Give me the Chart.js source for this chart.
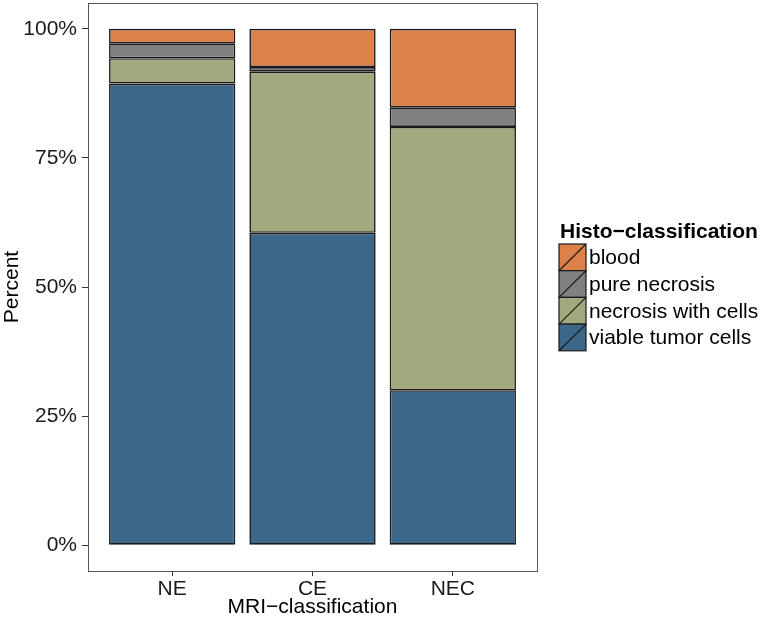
<!DOCTYPE html>
<html>
<head>
<meta charset="utf-8">
<script src="https://cdn.jsdelivr.net/npm/chart.js@4.4.1/dist/chart.umd.min.js"></script>
<style>
  html, body { margin: 0; padding: 0; background: #fff; }
  #wrap { width: 761px; height: 620px; }
</style>
</head>
<body>
<div id="wrap"><canvas id="chart" width="761" height="620"></canvas></div>
<script>
// MRI-classification vs histology, stacked percent bars

const categories = ['NE', 'CE', 'NEC'];
const yTicks = [0, 25, 50, 75, 100];

// stacked bottom to top
const viable = [89.4, 60.5, 30.0];
const necrosisCells = [4.9, 31.2, 51.0];
const pureNecrosis = [2.9, 0.9, 3.8];
const blood = [2.8, 7.4, 15.2];

const seriesNames = ['viable tumor cells', 'necrosis with cells', 'pure necrosis', 'blood'];
const seriesColors = ['#3d6789', '#a3a97f', '#808080', '#db8149'];
const seriesValues = [viable, necrosisCells, pureNecrosis, blood];

const FONT = "'Liberation Sans', Arial, sans-serif";
const FS = 21;

const datasets = seriesNames.map((name, i) => ({
  label: name,
  data: seriesValues[i].map((v, j) => ({ x: j + 1, y: v })),
  backgroundColor: seriesColors[i],
  borderColor: '#1a1a1a',
  borderWidth: 1.6,
  borderSkipped: false,
  categoryPercentage: 1,
  barPercentage: 0.9
}));

// panel box + legend drawn by hand (ggplot look)
const ggPlugin = {
  id: 'ggPlugin',
  afterDraw(chart) {
    const ctx = chart.ctx;
    const a = chart.chartArea;
    ctx.save();
    ctx.strokeStyle = '#555';
    ctx.lineWidth = 1;
    ctx.strokeRect(Math.round(a.left) + 0.5, Math.round(a.top) + 0.5,
      Math.round(a.right - a.left), Math.round(a.bottom - a.top));

    // legend
    const lx = 559, top = 244, key = 26.7;
    ctx.fillStyle = '#000';
    ctx.font = 'bold ' + FS + 'px ' + FONT;
    ctx.textBaseline = 'middle';
    ctx.textAlign = 'left';
    ctx.fillText('Histo\u2212classification', 560, 232);
    ctx.font = FS + 'px ' + FONT;
    for (let k = 0; k < seriesNames.length; k++) {
      const i = seriesNames.length - 1 - k;
      const y = top + k * key;
      ctx.fillStyle = seriesColors[i];
      ctx.fillRect(lx, y, 27, key);
      ctx.strokeStyle = '#1a1a1a';
      ctx.lineWidth = 1.2;
      ctx.strokeRect(lx, y, 27, key);
      ctx.beginPath();
      ctx.moveTo(lx, y + key);
      ctx.lineTo(lx + 27, y);
      ctx.stroke();
      ctx.fillStyle = '#000';
      ctx.fillText(seriesNames[i], 589, y + key / 2 + 1);
    }
    ctx.restore();
  }
};

new Chart(document.getElementById('chart'), {
  type: 'bar',
  data: { datasets },
  plugins: [ggPlugin],
  options: {
    responsive: false,
    animation: false,
    layout: { padding: { top: 3, right: 224, left: 0, bottom: 0 } },
    plugins: {
      legend: { display: false },
      tooltip: { enabled: false }
    },
    scales: {
      x: {
        type: 'linear',
        stacked: true,
        offset: false,
        min: 0.4,
        max: 3.6,
        afterBuildTicks: scale => { scale.ticks = categories.map((c, i) => ({ value: i + 1 })); },
        afterFit: scale => {
          scale.height = 49;
          scale.paddingLeft = 0;
          scale.paddingRight = 0;
        },
        grid: { offset: false, drawOnChartArea: false, drawTicks: true, tickLength: 5, tickColor: '#333', tickWidth: 1 },
        border: { display: false },
        ticks: {
          callback: v => categories[v - 1],
          color: '#1a1a1a',
          font: { family: FONT, size: FS },
          padding: 1,
          maxRotation: 0,
          autoSkip: false
        },
        title: {
          display: true,
          text: 'MRI\u2212classification',
          color: '#000',
          font: { family: FONT, size: FS },
          padding: { top: -7, bottom: 0 }
        }
      },
      y: {
        stacked: true,
        min: -5,
        max: 105,
        afterBuildTicks: scale => { scale.ticks = yTicks.map(v => ({ value: v })); },
        afterFit: scale => {
          scale.width = 88;
          scale.paddingTop = 0;
          scale.paddingBottom = 0;
        },
        grid: { drawOnChartArea: false, drawTicks: true, tickLength: 6, tickColor: '#333', tickWidth: 1 },
        border: { display: false },
        ticks: {
          callback: v => v + '%',
          color: '#1a1a1a',
          font: { family: FONT, size: FS },
          padding: 5
        },
        title: {
          display: true,
          text: 'Percent',
          color: '#000',
          font: { family: FONT, size: FS },
          padding: { top: 0, bottom: 0 }
        }
      }
    }
  }
});
</script>
</body>
</html>
